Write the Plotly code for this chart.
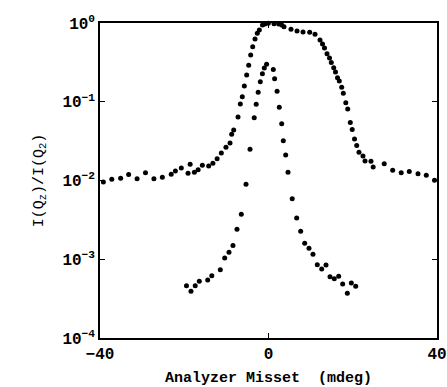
import plotly.graph_objects as go

# Broad curve (analyzer misset scan, upper set)
broad_x = [-39.2, -37.2, -35.1, -33.2, -31.2, -29.2, -27.2, -25.2, -23.1, -22.1,
           -20.7, -18.6, -19.1, -17.6, -16.7, -15.7, -14.2, -13.2, -12.2, -11.2,
           -10.1, -9.14, -8.74, -8.26, -7.24, -6.69, -6.22, -5.74, -5.18, -4.70,
           -4.23, -3.75, -3.20, -2.66, -2.18, -1.42, -0.83, -0.05, 1.31, 2.42,
           3.13, 3.68, 5.34, 6.77, 8.19, 9.78, 11.04, 12.23, 12.82, 13.29,
           13.89, 14.48, 14.91, 15.48, 15.90, 16.38, 16.81, 17.38, 17.76, 18.35,
           18.80, 19.42, 19.87, 20.42, 20.94, 21.48, 22.43, 22.91, 24.33, 24.85,
           27.47, 29.48, 31.50, 33.42, 35.49, 37.46, 39.41]
broad_y = [9.6e-3, 1.04e-2, 1.07e-2, 1.19e-2, 1.05e-2, 1.25e-2, 1.05e-2, 1.10e-2, 1.20e-2, 1.32e-2,
           1.44e-2, 1.61e-2, 1.24e-2, 1.27e-2, 1.37e-2, 1.56e-2, 1.53e-2, 1.65e-2, 1.89e-2, 2.23e-2,
           2.64e-2, 2.99e-2, 3.86e-2, 4.38e-2, 6.40e-2, 9.36e-2, 0.116, 0.158, 0.219, 0.290,
           0.392, 0.500, 0.626, 0.740, 0.815, 0.943, 0.971, 0.991, 0.977, 0.971,
           0.943, 0.898, 0.832, 0.791, 0.769, 0.762, 0.721, 0.608, 0.541, 0.482,
           0.408, 0.360, 0.315, 0.271, 0.239, 0.202, 0.184, 0.153, 0.128, 0.0973,
           0.0809, 0.0545, 0.0444, 0.0337, 0.0278, 0.0228, 0.0205, 0.0177, 0.0176, 0.0148,
           0.0163, 0.0135, 0.0125, 0.0130, 0.0122, 0.0117, 0.0101]

# Narrow peak (lower set)
narrow_x = [-19.47, -18.40, -17.40, -16.43, -14.43, -13.46, -11.44, -10.40, -9.38, -8.43,
            -7.48, -6.46, -5.34, -4.39, -3.39, -2.92, -2.45, -1.95, -1.45, -1.00,
            -0.45, 1.14, 1.45, 2.04, 2.56, 3.13, 3.51, 4.08, 4.63, 5.63,
            6.69, 7.64, 8.59, 9.61, 10.56, 11.58, 12.63, 13.65, 14.60, 15.62,
            16.66, 17.61, 18.71, 19.66, 20.70]
narrow_y = [4.61e-4, 3.93e-4, 4.61e-4, 5.25e-4, 5.46e-4, 6.18e-4, 7.35e-4, 1.04e-3, 1.23e-3, 1.50e-3,
            2.40e-3, 3.73e-3, 8.95e-3, 2.50e-2, 6.27e-2, 9.28e-2, 0.132, 0.180, 0.226, 0.268,
            0.300, 0.257, 0.196, 0.136, 0.0853, 0.0526, 0.0320, 0.0211, 0.0127, 5.87e-3,
            3.34e-3, 2.26e-3, 1.60e-3, 1.38e-3, 1.16e-3, 8.53e-4, 7.52e-4, 8.45e-4, 6.01e-4, 5.66e-4,
            6.08e-4, 4.85e-4, 3.70e-4, 5.00e-4, 4.54e-4]

x_ticks = [-40, 0, 40]
x_ticklabels = ["<b>−40</b>", "<b>0</b>", "<b>40</b>"]
y_ticks = [1e-4, 1e-3, 1e-2, 1e-1, 1]
y_ticklabels = ["<b>10<sup>−4</sup></b>", "<b>10<sup>−3</sup></b>", "<b>10<sup>−2</sup></b>",
                "<b>10<sup>−1</sup></b>", "<b>10<sup>0</sup></b>"]

FONT = "Liberation Mono"

fig = go.Figure()
for xs, ys in [(broad_x, broad_y), (narrow_x, narrow_y)]:
    fig.add_trace(go.Scatter(x=xs, y=ys, mode="markers",
                             marker=dict(color="black", size=5),
                             showlegend=False, cliponaxis=False))

fig.update_layout(
    width=447, height=387,
    margin=dict(l=100, r=10, t=23, b=49),
    paper_bgcolor="white", plot_bgcolor="white",
    font=dict(family=FONT, color="black", size=15),
    xaxis=dict(range=[-40, 40], tickvals=x_ticks, ticktext=x_ticklabels,
               automargin=False,
               showline=True, linecolor="black", linewidth=1.5, mirror="ticks",
               ticks="inside", ticklen=5, tickwidth=1.2, tickcolor="black",
               showgrid=False, zeroline=False,
               tickfont=dict(family=FONT, size=16),
               title=dict(text="<b>Analyzer Misset  (mdeg)</b>",
                          font=dict(family=FONT, size=15))),
    yaxis=dict(type="log", range=[-4, 0], tickvals=y_ticks, ticktext=y_ticklabels,
               automargin=False,
               showline=True, linecolor="black", linewidth=1.5, mirror="ticks",
               ticks="inside", ticklen=5, tickwidth=1.2, tickcolor="black",
               showgrid=False, zeroline=False,
               tickfont=dict(family=FONT, size=16),
               title=dict(text="I(Q<sub>z</sub>)/I(Q<sub>2</sub>)",
                          font=dict(family=FONT, size=15))),
)

fig.write_html("out.html")
